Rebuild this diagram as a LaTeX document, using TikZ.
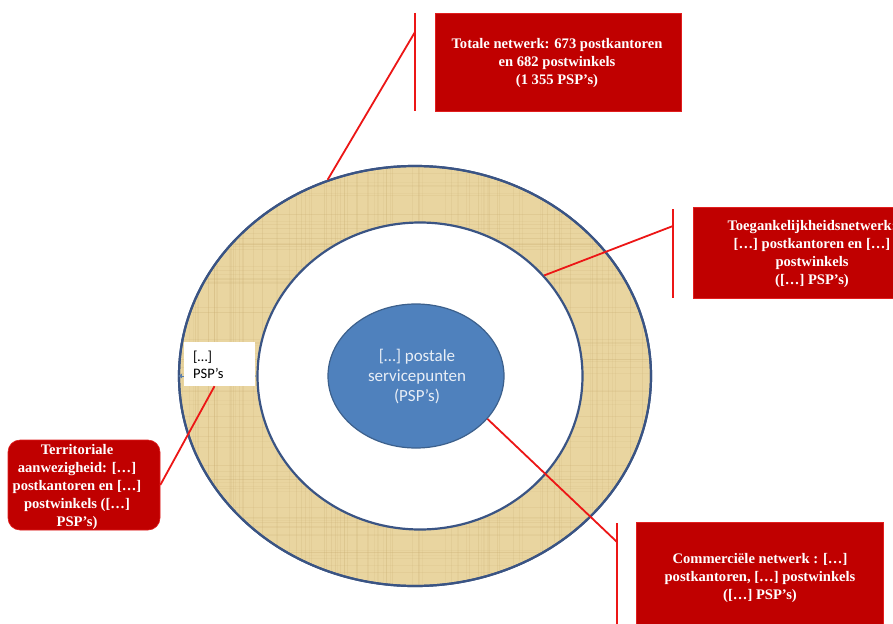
\documentclass[tikz,border=0pt]{standalone}
\usepackage{fontspec}
\setmainfont{Liberation Serif}
\newfontfamily\calib{Carlito}
\usetikzlibrary{shapes.geometric,arrows.meta,calc}
\definecolor{redbox}{RGB}{192,0,0}
\definecolor{redborder}{RGB}{225,30,30}
\definecolor{redline}{RGB}{236,22,22}
\definecolor{ringfill}{RGB}{233,213,160}
\definecolor{ringtex}{RGB}{200,172,112}
\definecolor{ringline}{RGB}{58,84,132}
\definecolor{bluefill}{RGB}{79,129,189}
\definecolor{blueline}{RGB}{60,96,140}
\definecolor{bluetext}{RGB}{232,238,246}
\definecolor{arrowc}{RGB}{90,125,170}
\begin{document}
\begin{tikzpicture}[x=1pt,y=-1pt,
  redrect/.style={fill=redbox, draw=redborder, line width=0.6pt, inner sep=0pt},
  redtext/.style={text=white, font=\bfseries\fontsize{14.6}{18}\selectfont, align=center, inner sep=0pt},
  bar/.style={draw=redline, line width=1.6pt},
  callout/.style={draw=redline, line width=1.8pt},
  ringell/.style={ellipse, draw=ringline, line width=2.2pt, inner sep=0pt}
]
\clip (0,0) rectangle (893,623);
\fill[white] (0,0) rectangle (893,623);

% ring
\node[ringell, fill=ringfill, minimum width=472pt, minimum height=420pt] (outer) at (415,376) {};
\begin{scope}
  \clip (415,376) ellipse [x radius=235pt, y radius=209pt];
  \pgfmathsetseed{7}
  \foreach \i in {1,...,90}{
    \pgfmathsetmacro{\xx}{180+rnd*470}
    \pgfmathsetmacro{\op}{0.10+0.15*rnd}
    \draw[ringtex, opacity=\op, line width=0.8pt] (\xx,160) -- (\xx,600);
  }
  \foreach \i in {1,...,80}{
    \pgfmathsetmacro{\yy}{160+rnd*440}
    \pgfmathsetmacro{\op}{0.08+0.12*rnd}
    \draw[ringtex, opacity=\op, line width=0.8pt] (170,\yy) -- (660,\yy);
  }
\end{scope}
\node[ringell, minimum width=472pt, minimum height=420pt] at (415,376) {};
\node[ringell, fill=white, minimum width=325pt, minimum height=307pt] (inner) at (420,376) {};

% centre ellipse
\node[ellipse, fill=bluefill, draw=blueline, line width=1.2pt, minimum width=176pt, minimum height=144pt, inner sep=0pt] (core) at (416,376) {};
\node[text=bluetext, font=\calib\fontsize{17}{20}\selectfont, align=center, inner sep=0pt] (coretext) at (417,377) {[…] postale\\servicepunten\\(PSP’s)};

% double arrow across the ring
\draw[arrowc, line width=0.8pt, {Latex[length=4pt,width=5pt]}-{Latex[length=4pt,width=5pt]}] (outer.west) -- (inner.west);
\node[fill=white, minimum width=71pt, minimum height=44pt, inner sep=0pt] (wbox) at (219.5,364) {};
\node[anchor=west, align=left, font=\calib\fontsize{14.5}{16.5}\selectfont, inner sep=0pt] (wtext) at (193,365) {[…]\\PSP’s};

% box 1: Totale netwerk
\node[redrect, minimum width=246pt, minimum height=98pt] (b1) at (558,62) {};
\node[redtext] (t1) at (557,63) {Totale netwerk: 673 postkantoren\\en 682 postwinkels\\(1 355 PSP’s)};
\coordinate (b1top) at (415,13);
\coordinate (b1bot) at (415,111);
\coordinate (b1j) at (415,32);
\draw[bar] (b1top) -- (b1bot);
\draw[callout] (b1j) -- (outer.114);

% box 2: Toegankelijkheidsnetwerk
\node[redrect, minimum width=234pt, minimum height=91pt] (b2) at (810,252.5) {};
\node[redtext] (t2) at (812,254) {Toegankelijkheidsnetwerk:\\{}[…] postkantoren en […]\\postwinkels\\([…] PSP’s)};
\coordinate (b2top) at (673,209);
\coordinate (b2bot) at (673,298);
\coordinate (b2j) at (673,226);
\draw[bar] (b2top) -- (b2bot);
\draw[callout] (b2j) -- (inner.39.6);

% box 3: Territoriale aanwezigheid
\node[redrect, rounded corners=12pt, minimum width=152pt, minimum height=90pt] (b3) at (84,485) {};
\node[redtext] (t3) at (77,487) {Territoriale\\aanwezigheid: […]\\postkantoren en […]\\postwinkels ([…]\\PSP’s)};
\draw[callout] (b3.east) -- ($(wbox.south)+(-5,0)$);

% box 4: Commerciele netwerk
\node[redrect, minimum width=247pt, minimum height=116pt] (b4) at (760,580) {};
\node[redtext] (t4) at (760,578) {Commerciële netwerk : […]\\postkantoren, […] postwinkels\\([…] PSP’s)};
\coordinate (b4top) at (617,523);
\coordinate (b4bot) at (617,640);
\coordinate (b4j) at (617,542);
\draw[bar] (b4top) -- (b4bot);
\draw[callout] (b4j) -- (core.-31.4);
\end{tikzpicture}
\end{document}
